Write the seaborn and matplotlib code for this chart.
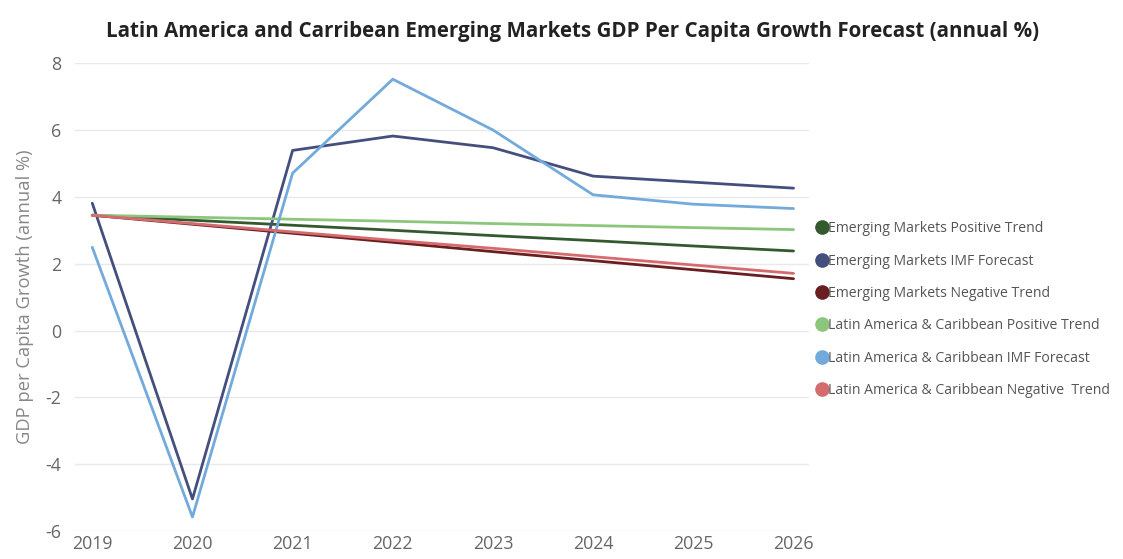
import matplotlib
matplotlib.use("Agg")
import matplotlib.pyplot as plt
from matplotlib.lines import Line2D
import seaborn as sns
import pandas as pd

years = [2019, 2020, 2021, 2022, 2023, 2024, 2025, 2026]

em_positive_trend = [3.45, 3.30, 3.15, 3.00, 2.84, 2.69, 2.53, 2.38]
em_imf_forecast = [3.81, -5.04, 5.39, 5.82, 5.47, 4.62, 4.44, 4.26]
em_negative_trend = [3.45, 3.18, 2.91, 2.64, 2.36, 2.09, 1.82, 1.55]
lac_positive_trend = [3.45, 3.39, 3.33, 3.27, 3.20, 3.14, 3.08, 3.02]
lac_imf_forecast = [2.49, -5.58, 4.71, 7.52, 6.00, 4.06, 3.78, 3.65]
lac_negative_trend = [3.45, 3.20, 2.95, 2.70, 2.46, 2.21, 1.96, 1.71]

series_names = [
    "Emerging Markets Positive Trend",
    "Emerging Markets IMF Forecast",
    "Emerging Markets Negative Trend",
    "Latin America & Caribbean Positive Trend",
    "Latin America & Caribbean IMF Forecast",
    "Latin America & Caribbean Negative  Trend",
]
series_values = [
    em_positive_trend,
    em_imf_forecast,
    em_negative_trend,
    lac_positive_trend,
    lac_imf_forecast,
    lac_negative_trend,
]
colors = ["#34592f", "#454f7d", "#6a1e20", "#8cc67c", "#72aadb", "#d66b6e"]

y_ticks = [-6, -4, -2, 0, 2, 4, 6, 8]

rows = []
for name, vals in zip(series_names, series_values):
    for yr, v in zip(years, vals):
        rows.append({"Year": yr, "Value": v, "Series": name})
df = pd.DataFrame(rows)

sns.set_theme(style="white")
plt.rcParams["font.family"] = ["Open Sans", "DejaVu Sans"]

fig = plt.figure(figsize=(11.23, 5.59), dpi=100)
ax = fig.add_axes([0.067, 0.050, 0.653, 0.837])

palette = dict(zip(series_names, colors))
sns.lineplot(
    data=df, x="Year", y="Value", hue="Series", hue_order=series_names,
    palette=palette, linewidth=2.0, ax=ax, legend=False, sort=False,
)

ax.set_xlim(2018.83, 2026.15)
ax.set_ylim(-6, 8)
ax.set_yticks(y_ticks)
ax.set_yticklabels([str(t) for t in y_ticks])
ax.set_xticks(years)
ax.set_xticklabels([str(y) for y in years])
ax.grid(axis="y", color="#e9e9e9", linewidth=1.0)
ax.grid(axis="x", visible=False)
for s in ax.spines.values():
    s.set_visible(False)
ax.tick_params(axis="both", length=0, labelsize=12.8, labelcolor="#666666", pad=3)
ax.tick_params(axis="y", pad=10)
ax.set_xlabel("")
ax.set_ylabel("GDP per Capita Growth (annual %)", fontsize=13.2, color="#888888", labelpad=8)

fig.suptitle(
    "Latin America and Carribean Emerging Markets GDP Per Capita Growth Forecast (annual %)",
    x=0.51, y=0.963, fontsize=14.8, fontweight="bold", color="#222222",
)

handles = [
    Line2D([0], [0], marker="o", linestyle="none", markersize=9.5,
           markerfacecolor=c, markeredgecolor=c)
    for c in colors
]
fig.legend(
    handles, series_names, loc="center left", bbox_to_anchor=(0.723, 0.446),
    frameon=False, fontsize=10.1, labelcolor="#555555", handlelength=0.7,
    handletextpad=0.05, labelspacing=1.24, borderaxespad=0,
)

fig.savefig("out.png", dpi=100)
